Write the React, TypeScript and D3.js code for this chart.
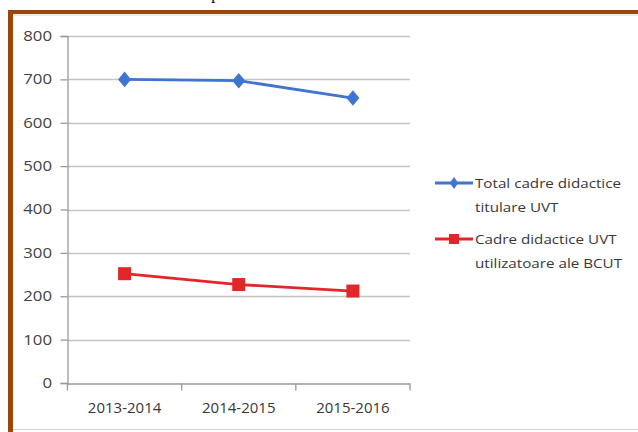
import React, { useRef, useEffect } from 'react';
import * as d3 from 'd3';

const years = ['2013-2014', '2014-2015', '2015-2016'];
const totalCadre = [700, 697, 657];
const cadreUtilizatoare = [252, 227, 212];
const yTicks = [0, 100, 200, 300, 400, 500, 600, 700, 800];
const legendTotal = ['Total cadre didactice', 'titulare UVT'];
const legendUtil = ['Cadre didactice UVT', 'utilizatoare ale BCUT'];

const App: React.FC = () => {
  const svgRef = useRef<SVGSVGElement>(null);

  useEffect(() => {
    document.body.style.margin = '0';
    if (!svgRef.current) return;

    const svg = d3.select(svgRef.current);
    svg.selectAll('*').remove();

    const width = 638;
    const height = 432;
    const font = '"Open Sans", Calibri, sans-serif';
    // the source picture is a bit stretched sideways
    const stretch = 1.17;

    svg.attr('width', width).attr('height', height);

    svg.append('rect').attr('width', width).attr('height', height).attr('fill', '#fff');

    // cut-off caption above the frame
    svg.append('text')
      .attr('x', 211).attr('y', -1)
      .attr('font-family', 'Liberation Serif, serif')
      .attr('font-size', 18)
      .attr('fill', '#111')
      .text('p');

    // brown frame (top + left visible)
    svg.append('rect').attr('x', 8).attr('y', 10).attr('width', width - 8).attr('height', 4).attr('fill', '#9a4708');
    svg.append('rect').attr('x', 8).attr('y', 10).attr('width', 5).attr('height', height - 10).attr('fill', '#9a4708');
    svg.append('line').attr('x1', 13).attr('x2', width).attr('y1', 15).attr('y2', 15)
      .attr('stroke', '#d8d8d8').attr('stroke-width', 1);
    svg.append('line').attr('x1', 13).attr('x2', width).attr('y1', 429.5).attr('y2', 429.5)
      .attr('stroke', '#d0d0d0').attr('stroke-width', 1);

    const left = 67.5;
    const right = 410;
    const top = 36;
    const bottom = 383;

    const x = d3.scaleBand<string>().domain(years).range([left, right]);
    const y = d3.scaleLinear().domain([0, 800]).range([bottom, top]);
    const cx = (d: string) => (x(d) ?? 0) + x.bandwidth() / 2;

    // gridlines
    svg.append('g')
      .selectAll('line')
      .data(yTicks.filter(t => t > 0))
      .enter().append('line')
      .attr('x1', left).attr('x2', right)
      .attr('y1', d => Math.round(y(d)) + 0.5).attr('y2', d => Math.round(y(d)) + 0.5)
      .attr('stroke', '#c4c4c4').attr('stroke-width', 1.3);

    // y axis
    const yAxis = svg.append('g')
      .attr('transform', `translate(${left},0)`)
      .call(d3.axisLeft(y).tickValues(yTicks).tickSize(7).tickPadding(8).tickFormat(d3.format('d')));
    yAxis.select('.domain').attr('stroke', '#9a9a9a').attr('stroke-width', 1.3);
    yAxis.selectAll('.tick line').attr('stroke', '#9a9a9a').attr('stroke-width', 1.3);
    yAxis.selectAll('.tick text')
      .attr('x', -15.5 / 1.2)
      .attr('transform', 'scale(1.2,1)')
      .attr('font-family', font).attr('font-size', 14).attr('fill', '#444');

    // x axis
    const xAxis = svg.append('g')
      .attr('transform', `translate(0,${Math.round(bottom) + 0.5})`)
      .call(d3.axisBottom(x).tickSize(0).tickPadding(19));
    xAxis.select('.domain').attr('stroke', '#9a9a9a').attr('stroke-width', 1.3);
    xAxis.selectAll('.tick text')
      .attr('font-family', font).attr('font-size', 15).attr('fill', '#383838');
    xAxis.append('g')
      .selectAll('line')
      .data([...years.map(d => x(d) ?? 0), right])
      .enter().append('line')
      .attr('x1', d => d).attr('x2', d => d)
      .attr('y1', 0).attr('y2', 7)
      .attr('stroke', '#9a9a9a').attr('stroke-width', 1.3);

    const line = d3.line<number>()
      .x((_, i) => cx(years[i]))
      .y(d => y(d));

    const blue = '#3f74d0';
    const red = '#e3262a';

    svg.append('path')
      .datum(totalCadre)
      .attr('d', line)
      .attr('fill', 'none').attr('stroke', blue).attr('stroke-width', 2.8);
    svg.append('g')
      .selectAll('path')
      .data(totalCadre)
      .enter().append('path')
      .attr('d', d3.symbol().type(d3.symbolDiamond).size(70))
      .attr('transform', (d, i) => `translate(${cx(years[i])},${y(d)}) scale(1.45,1)`)
      .attr('fill', blue);

    svg.append('path')
      .datum(cadreUtilizatoare)
      .attr('d', line)
      .attr('fill', 'none').attr('stroke', red).attr('stroke-width', 2.8);
    svg.append('g')
      .selectAll('rect')
      .data(cadreUtilizatoare)
      .enter().append('rect')
      .attr('x', (d, i) => cx(years[i]) - 6.5)
      .attr('y', d => y(d) - 6.5)
      .attr('width', 13).attr('height', 13)
      .attr('fill', red);

    // legend
    const legend = svg.append('g');
    const items = [
      { lines: legendTotal, color: blue, y: 183, marker: 'diamond' },
      { lines: legendUtil, color: red, y: 239, marker: 'square' },
    ];
    items.forEach(item => {
      legend.append('line')
        .attr('x1', 435).attr('x2', 473)
        .attr('y1', item.y).attr('y2', item.y)
        .attr('stroke', item.color).attr('stroke-width', 2.8);
      if (item.marker === 'diamond') {
        legend.append('path')
          .attr('d', d3.symbol().type(d3.symbolDiamond).size(40))
          .attr('transform', `translate(454,${item.y}) scale(1.25,1)`)
          .attr('fill', item.color);
      } else {
        legend.append('rect')
          .attr('x', 449).attr('y', item.y - 5)
          .attr('width', 10).attr('height', 10)
          .attr('fill', item.color);
      }
      item.lines.forEach((t, i) => {
        legend.append('text')
          .attr('transform', `translate(475,${item.y + 5 + i * 24}) scale(${stretch},1)`)
          .attr('font-family', font).attr('font-size', 13)
          .attr('fill', '#383838')
          .text(t);
      });
    });
  }, []);

  return <svg ref={svgRef} style={{ display: 'block' }}></svg>;
};

export default App;
